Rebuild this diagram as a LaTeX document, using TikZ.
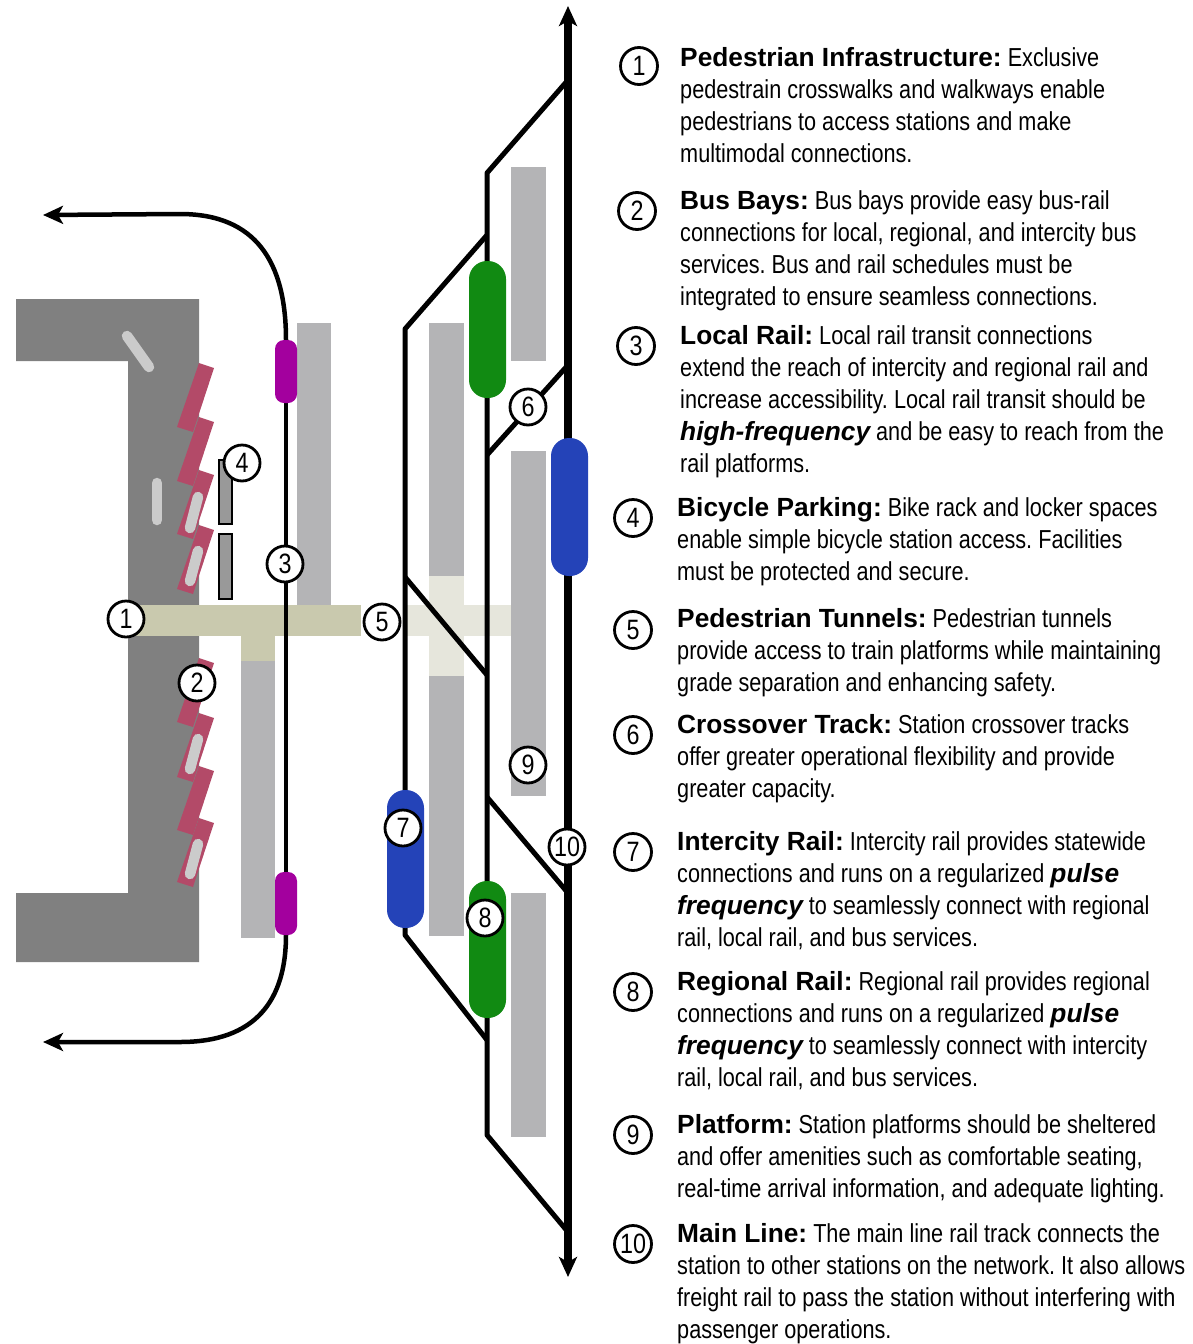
\documentclass[tikz,border=0pt]{standalone}
\usepackage{fontspec}
\setmainfont{Liberation Sans}
\newfontfamily\regnarrow{Liberation Sans}[FakeStretch=0.833]
\usetikzlibrary{arrows.meta,calc}
\frenchspacing
\definecolor{roadgray}{HTML}{808080}
\definecolor{baypink}{HTML}{B34A68}
\definecolor{busgray}{HTML}{CBCBCB}
\definecolor{platgray}{HTML}{B4B4B6}
\definecolor{tunnelA}{HTML}{C9C9AE}
\definecolor{tunnelB}{HTML}{E6E6DC}
\definecolor{lrvpurple}{HTML}{A3009E}
\definecolor{railgreen}{HTML}{118A12}
\definecolor{railblue}{HTML}{2443B8}
\tikzset{
 x=1pt,y=-1pt,
 track/.style={draw=black,line width=5pt,line join=round},
 localrail/.style={draw=black,line width=4.5pt,line join=round},
 mainline/.style={draw=black,line width=8pt},
 platform/.style={fill=platgray},
 bay/.style={fill=baypink},
 bus/.style={draw=busgray,line width=10.5pt,line cap=round},
 rack/.style={fill=black!40,draw=black,line width=1.8pt},
 callout/.style={circle,draw=black,line width=2.8pt,fill=white,minimum size=36pt,inner sep=0pt,font=\fontsize{28}{28}\selectfont\regnarrow},
 legendnum/.style={callout,minimum size=37pt},
 legend/.style={anchor=north west,inner sep=0pt,align=left,font=\frenchspacing\fontsize{26}{32}\selectfont\regnarrow},
 bighead/.style={-{Stealth[length=20pt,width=18pt,inset=5pt]}},
}
\newcommand{\hd}[1]{{\fontsize{26.3}{32}\selectfont\rmfamily\bfseries #1}}
\newcommand{\emw}[1]{{\fontsize{26.3}{32}\selectfont\rmfamily\bfseries\itshape #1}}
\begin{document}
\begin{tikzpicture}
\useasboundingbox (0,0) rectangle (1193,1344);
% road
\fill[roadgray] (16,299)--(199,299)--(199,962)--(16,962)--(16,893)--(128,893)--(128,361)--(16,361)--cycle;
% bays
\foreach \y in {363,417,470,525,658,713,766,818}{
 \fill[bay] (199,\y)--(214,\y+5)--(193,\y+69)--(177,\y+64)--cycle;
}
% buses
\draw[bus] (127,336)--(149,367);
\draw[bus] (157,483)--(157,520);
\draw[bus] (198,497)--(190,528);
\draw[bus] (198,551)--(190,581);
\draw[bus] (198,739)--(190,769);
\draw[bus] (198,844)--(190,874);
% bike racks
\draw[rack] (219,460) rectangle (232,524);
\draw[rack] (219,534) rectangle (232,599);
% platforms
\fill[platform] (297,323) rectangle (331,606);
\fill[platform] (241,660) rectangle (275,938);
\fill[platform] (429,323) rectangle (464,577);
\fill[platform] (429,676) rectangle (464,936);
\fill[platform] (511,167) rectangle (546,361);
\fill[platform] (511,451) rectangle (546,796);
\fill[platform] (511,893) rectangle (546,1137);
% tunnels
\fill[tunnelA] (130,605) rectangle (361,636);
\fill[tunnelA] (241,636) rectangle (275,661);
\fill[tunnelB] (405,605) rectangle (511,636);
\fill[tunnelB] (429,576) rectangle (464,676);
% local rail
\draw[localrail,bighead] (286,340) .. controls (286,262) and (256,214) .. (180,214) -- (43,215);
\draw[localrail] (286,340)--(286,935);
\draw[localrail,bighead] (286,935) .. controls (286,1000) and (256,1042) .. (180,1042) -- (43,1042);
% tracks
\draw[track] (568,80)--(487,173)--(487,1135)--(568,1232);
\draw[track] (487,235)--(405,329)--(405,935)--(487,1040);
\draw[track] (487,455)--(568,365);
\draw[track] (405,577)--(487,675);
\draw[track] (487,797)--(568,893);
\draw[mainline,{Stealth[length=20pt,width=18pt,inset=5pt]}-{Stealth[length=20pt,width=18pt,inset=5pt]}] (568,6)--(568,1277);
% trains
\fill[lrvpurple,rounded corners=9pt] (275,340) rectangle (297,403);
\fill[lrvpurple,rounded corners=9pt] (275,872) rectangle (297,935);
\fill[railgreen,rounded corners=18pt] (469,261) rectangle (506,398);
\fill[railgreen,rounded corners=18pt] (469,881) rectangle (506,1018);
\fill[railblue,rounded corners=18pt] (551,438) rectangle (588,576);
\fill[railblue,rounded corners=18pt] (387,790) rectangle (424,928);
% callouts
\node[callout] (c1) at (126,619) {1};
\node[callout] (c2) at (197,683) {2};
\node[callout] (c3) at (285,564) {3};
\node[callout] (c4) at (242,463) {4};
\node[callout] (c5) at (382,622) {5};
\node[callout] (c6) at (528,407) {6};
\node[callout] (c7) at (403,828) {7};
\node[callout] (c8) at (485,918) {8};
\node[callout] (c9) at (528,765) {9};
\node[callout] (c10) at (567,847) {10};
% legend
\node[legendnum] (n1) at (639,66) {1};
\node[legendnum] (n2) at (637,211) {2};
\node[legendnum] (n3) at (636,346) {3};
\node[legendnum] (n4) at (633,518) {4};
\node[legendnum] (n5) at (633,630) {5};
\node[legendnum] (n6) at (633,735) {6};
\node[legendnum] (n7) at (633,852) {7};
\node[legendnum] (n8) at (633,992) {8};
\node[legendnum] (n9) at (633,1135) {9};
\node[legendnum] (n10) at (633,1244) {10};
\node[legend] (t1) at (680,47) {\hd{Pedestrian Infrastructure:} Exclusive\\pedestrain crosswalks and walkways enable\\pedestrians to access stations and make\\multimodal connections.};
\node[legend] (t2) at (680,190) {\hd{Bus Bays:} Bus bays provide easy bus-rail\\connections for local, regional, and intercity bus\\services. Bus and rail schedules must be\\integrated to ensure seamless connections.};
\node[legend] (t3) at (680,325) {\hd{Local Rail:} Local rail transit connections\\extend the reach of intercity and regional rail and\\increase accessibility. Local rail transit should be\\\emw{high-frequency} and be easy to reach from the\\rail platforms.};
\node[legend] (t4) at (677,497) {\hd{Bicycle Parking:} Bike rack and locker spaces\\enable simple bicycle station access. Facilities\\must be protected and secure.};
\node[legend] (t5) at (677,608) {\hd{Pedestrian Tunnels:} Pedestrian tunnels\\provide access to train platforms while maintaining\\grade separation and enhancing safety.};
\node[legend] (t6) at (677,714) {\hd{Crossover Track:} Station crossover tracks\\offer greater operational flexibility and provide\\greater capacity.};
\node[legend] (t7) at (677,831) {\hd{Intercity Rail:} Intercity rail provides statewide\\connections and runs on a regularized \emw{pulse}\\\emw{frequency} to seamlessly connect with regional\\rail, local rail, and bus services.};
\node[legend] (t8) at (677,971) {\hd{Regional Rail:} Regional rail provides regional\\connections and runs on a regularized \emw{pulse}\\\emw{frequency} to seamlessly connect with intercity\\rail, local rail, and bus services.};
\node[legend] (t9) at (677,1114) {\hd{Platform:} Station platforms should be sheltered\\and offer amenities such as comfortable seating,\\real-time arrival information, and adequate lighting.};
\node[legend] (t10) at (677,1223) {\hd{Main Line:} The main line rail track connects the\\station to other stations on the network. It also allows\\freight rail to pass the station without interfering with\\passenger operations.};
\end{tikzpicture}
\end{document}
